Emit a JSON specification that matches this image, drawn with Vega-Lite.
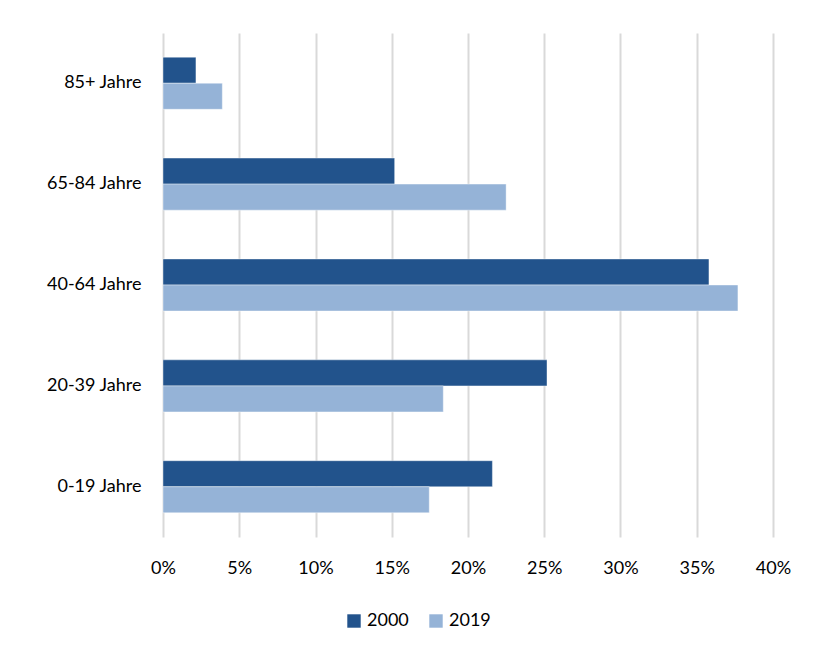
{
  "$schema": "https://vega.github.io/schema/vega-lite/v6.json",
  "autosize": "none",
  "width": 610,
  "height": 504,
  "padding": {"left": 163, "top": 33, "right": 51, "bottom": 117},
  "background": "white",
  "data": {
    "values": [
      {"group": "85+ Jahre", "year": "2000", "share": 0.0216},
      {"group": "85+ Jahre", "year": "2019", "share": 0.0389},
      {"group": "65-84 Jahre", "year": "2000", "share": 0.1519},
      {"group": "65-84 Jahre", "year": "2019", "share": 0.225},
      {"group": "40-64 Jahre", "year": "2000", "share": 0.358},
      {"group": "40-64 Jahre", "year": "2019", "share": 0.377},
      {"group": "20-39 Jahre", "year": "2000", "share": 0.2518},
      {"group": "20-39 Jahre", "year": "2019", "share": 0.1838},
      {"group": "0-19 Jahre", "year": "2000", "share": 0.216},
      {"group": "0-19 Jahre", "year": "2019", "share": 0.1746}
    ]
  },
  "mark": {"type": "bar", "stroke": "#ffffff", "strokeOpacity": 0.4, "strokeWidth": 1},
  "encoding": {
    "y": {
      "field": "group",
      "type": "nominal",
      "sort": ["85+ Jahre", "65-84 Jahre", "40-64 Jahre", "20-39 Jahre", "0-19 Jahre"],
      "scale": {"paddingInner": 0.484, "paddingOuter": 0.24},
      "axis": {
        "title": null,
        "domain": false,
        "ticks": false,
        "labelPadding": 22,
        "labelFont": "Liberation Sans Narrow, Lato",
        "labelFontSize": 18,
        "labelColor": "#000000"
      }
    },
    "yOffset": {
      "field": "year",
      "type": "nominal",
      "scale": {"paddingInner": 0, "paddingOuter": 0}
    },
    "x": {
      "field": "share",
      "type": "quantitative",
      "scale": {"domain": [0, 0.4], "nice": false},
      "axis": {
        "title": null,
        "format": ".0%",
        "values": [0, 0.05, 0.1, 0.15, 0.2, 0.25, 0.3, 0.35, 0.4],
        "domain": false,
        "ticks": false,
        "grid": true,
        "gridColor": "#d9d9d9",
        "gridWidth": 2,
        "labelFlush": false,
        "labelAlign": "center",
        "labelPadding": 22,
        "labelFont": "Liberation Sans Narrow, Lato",
        "labelFontSize": 18,
        "labelColor": "#000000"
      }
    },
    "color": {
      "field": "year",
      "type": "nominal",
      "scale": {"domain": ["2000", "2019"], "range": ["#22538c", "#95b3d7"]},
      "legend": {
        "title": null,
        "orient": "none",
        "legendX": 182,
        "legendY": 579,
        "direction": "horizontal",
        "symbolType": "square",
        "symbolSize": 180,
        "symbolStrokeWidth": 0,
        "labelFont": "Liberation Sans Narrow, Lato",
        "labelFontSize": 18,
        "labelColor": "#000000",
        "labelOffset": 4,
        "columnPadding": 18
      }
    }
  },
  "config": {"view": {"stroke": null}}
}
